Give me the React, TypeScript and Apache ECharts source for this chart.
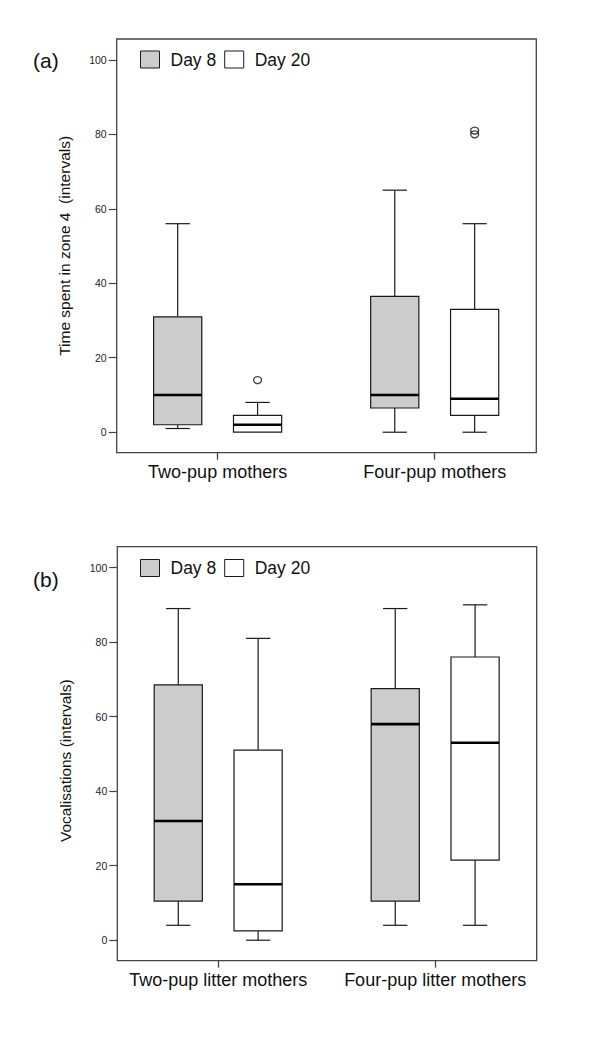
import React, { useEffect, useRef } from "react";
import * as echarts from "echarts";

// ---- data ----
const categoriesA = ["Two-pup mothers", "Four-pup mothers"];
const categoriesB = ["Two-pup litter mothers", "Four-pup litter mothers"];
const seriesNames = ["Day 8", "Day 20"];
const yTicks = [0, 20, 40, 60, 80, 100];
const yNameA = "Time spent in zone 4  (intervals)";
const yNameB = "Vocalisations (intervals)";

// [min, q1, median, q3, max] per category
const zoneDay8 = [
  [1, 2, 10, 31, 56],
  [0, 6.5, 10, 36.5, 65],
];
const zoneDay20 = [
  [0, 0, 2, 4.5, 8],
  [0, 4.5, 9, 33, 56],
];
// [categoryIndex, value]
const zoneOutliersDay20 = [
  [0, 14],
  [1, 80],
  [1, 81],
];

const vocDay8 = [
  [4, 10.5, 32, 68.5, 89],
  [4, 10.5, 58, 67.5, 89],
];
const vocDay20 = [
  [0, 2.5, 15, 51, 81],
  [4, 21.5, 53, 76, 90],
];

// ---- styling / layout ----
const FONT = "'Liberation Sans', Arial, Helvetica, sans-serif";
const GREY = "#cccccc";
const STROKE = "#1a1a1a";
const FRAME = "#444444";
const OFFSET = 0.184; // offset of each box from group centre, axis units
const BOX_W = 0.222; // box width, axis units
const CAP_W = 0.056; // whisker cap half width, axis units

const makeRender = (offset: number) => (params: any, api: any) => {
  const x = api.value(0) + offset;
  const unit = api.size([1, 0])[0];
  const bw = unit * BOX_W;
  const cw = unit * CAP_W;
  const cx = api.coord([x, 0])[0];
  const py = (i: number) => api.coord([x, api.value(i)])[1];
  const yMin = py(1);
  const yQ1 = py(2);
  const yMed = py(3);
  const yQ3 = py(4);
  const yMax = py(5);
  const fill = api.style().fill;
  const ls = { stroke: STROKE, lineWidth: 1.2 };
  const children: any[] = [];
  if (yQ3 - yMax > 0.5) {
    children.push({ type: "line", shape: { x1: cx, y1: yQ3, x2: cx, y2: yMax }, style: ls });
    children.push({ type: "line", shape: { x1: cx - cw, y1: yMax, x2: cx + cw, y2: yMax }, style: ls });
  }
  if (yMin - yQ1 > 0.5) {
    children.push({ type: "line", shape: { x1: cx, y1: yQ1, x2: cx, y2: yMin }, style: ls });
    children.push({ type: "line", shape: { x1: cx - cw, y1: yMin, x2: cx + cw, y2: yMin }, style: ls });
  }
  children.push({
    type: "rect",
    shape: { x: cx - bw / 2, y: yQ3, width: bw, height: yQ1 - yQ3 },
    style: { fill, stroke: STROKE, lineWidth: 1.2 },
  });
  children.push({
    type: "line",
    shape: { x1: cx - bw / 2, y1: yMed, x2: cx + bw / 2, y2: yMed },
    style: { stroke: "#000", lineWidth: 2.6 },
  });
  return { type: "group", children };
};

const toBoxData = (arr: number[][]) => arr.map((d, i) => [i + 1, ...d]);

const xAxisFor = (gridIndex: number, cats: string[]) => ({
  type: "value",
  gridIndex,
  min: 0.535,
  max: 2.468,
  axisLine: { show: false, onZero: false },
  splitLine: { show: false },
  axisTick: { show: true, customValues: [1, 2], length: 7, lineStyle: { color: FRAME, width: 1.3 } },
  axisLabel: {
    customValues: [1, 2],
    formatter: (v: number) => cats[Math.round(v) - 1] ?? "",
    fontSize: 18,
    color: "#111",
    fontFamily: FONT,
    margin: 10,
  },
});

const yAxisFor = (gridIndex: number, name: string, namePad: number[]) => ({
  type: "value",
  gridIndex,
  min: -5.5,
  max: 105.6,
  axisLine: { show: false, onZero: false },
  splitLine: { show: false },
  axisTick: { show: true, customValues: yTicks, length: 8, lineStyle: { color: FRAME, width: 1.2 } },
  axisLabel: { customValues: yTicks, fontSize: 10.5, color: "#222", fontFamily: FONT, margin: 10 },
  name,
  nameLocation: "middle",
  nameGap: 44,
  nameTextStyle: { fontSize: 15.5, color: "#111", fontFamily: FONT, padding: namePad },
});

const legendFor = (top: number) => ({
  left: 140,
  top,
  padding: 0,
  itemWidth: 19,
  itemHeight: 17,
  itemGap: 8,
  selectedMode: false,
  icon: "rect",
  data: [
    { name: seriesNames[0], itemStyle: { color: GREY, borderColor: STROKE, borderWidth: 1 } },
    { name: seriesNames[1], itemStyle: { color: "#ffffff", borderColor: STROKE, borderWidth: 1 } },
  ],
  textStyle: { fontSize: 17.5, color: "#111", fontFamily: FONT, padding: [0, 0, 0, 6] },
});

export default function App() {
  const ref = useRef<HTMLDivElement>(null);
  useEffect(() => {
    document.body.style.margin = "0";
    if (!ref.current) return;
    const chart = echarts.init(ref.current, null, { renderer: "svg" });
    const boxSeries = (name: string, data: number[][], idx: number, offset: number, color: string) => ({
      type: "custom",
      name,
      xAxisIndex: idx,
      yAxisIndex: idx,
      data: toBoxData(data),
      encode: { x: 0, y: [1, 2, 3, 4, 5] },
      itemStyle: { color, borderColor: STROKE, borderWidth: 1 },
      renderItem: makeRender(offset),
      clip: false,
    });
    chart.setOption({
      animation: false,
      backgroundColor: "#ffffff",
      textStyle: { fontFamily: FONT },
      title: [
        { text: "(a)", left: 28, top: 45, textStyle: { fontSize: 21, fontWeight: "normal", color: "#111", fontFamily: FONT } },
        { text: "(b)", left: 28, top: 564, textStyle: { fontSize: 21, fontWeight: "normal", color: "#111", fontFamily: FONT } },
      ],
      legend: [legendFor(50.5), legendFor(559)],
      grid: [
        { left: 116.7, top: 39, width: 419.6, height: 413.7, show: true, borderColor: FRAME, borderWidth: 1.3, backgroundColor: "transparent" },
        { left: 117.3, top: 546.7, width: 419.4, height: 414, show: true, borderColor: FRAME, borderWidth: 1.3, backgroundColor: "transparent" },
      ],
      xAxis: [xAxisFor(0, categoriesA), xAxisFor(1, categoriesB)],
      yAxis: [yAxisFor(0, yNameA, [0, 0, 0, 0]), yAxisFor(1, yNameB, [0, 14, 0, 0])],
      series: [
        boxSeries(seriesNames[0], zoneDay8, 0, -OFFSET, GREY),
        boxSeries(seriesNames[1], zoneDay20, 0, OFFSET, "#ffffff"),
        {
          type: "scatter",
          name: "Outliers",
          xAxisIndex: 0,
          yAxisIndex: 0,
          data: zoneOutliersDay20.map(([c, v]) => [c + 1 + OFFSET, v]),
          symbol: "circle",
          symbolSize: [8, 7],
          itemStyle: { color: "transparent", borderColor: "#111", borderWidth: 1.3 },
        },
        boxSeries(seriesNames[0], vocDay8, 1, -OFFSET, GREY),
        boxSeries(seriesNames[1], vocDay20, 1, OFFSET, "#ffffff"),
      ],
    });
    return () => chart.dispose();
  }, []);
  return <div ref={ref} style={{ width: 600, height: 1046 }} />;
}
